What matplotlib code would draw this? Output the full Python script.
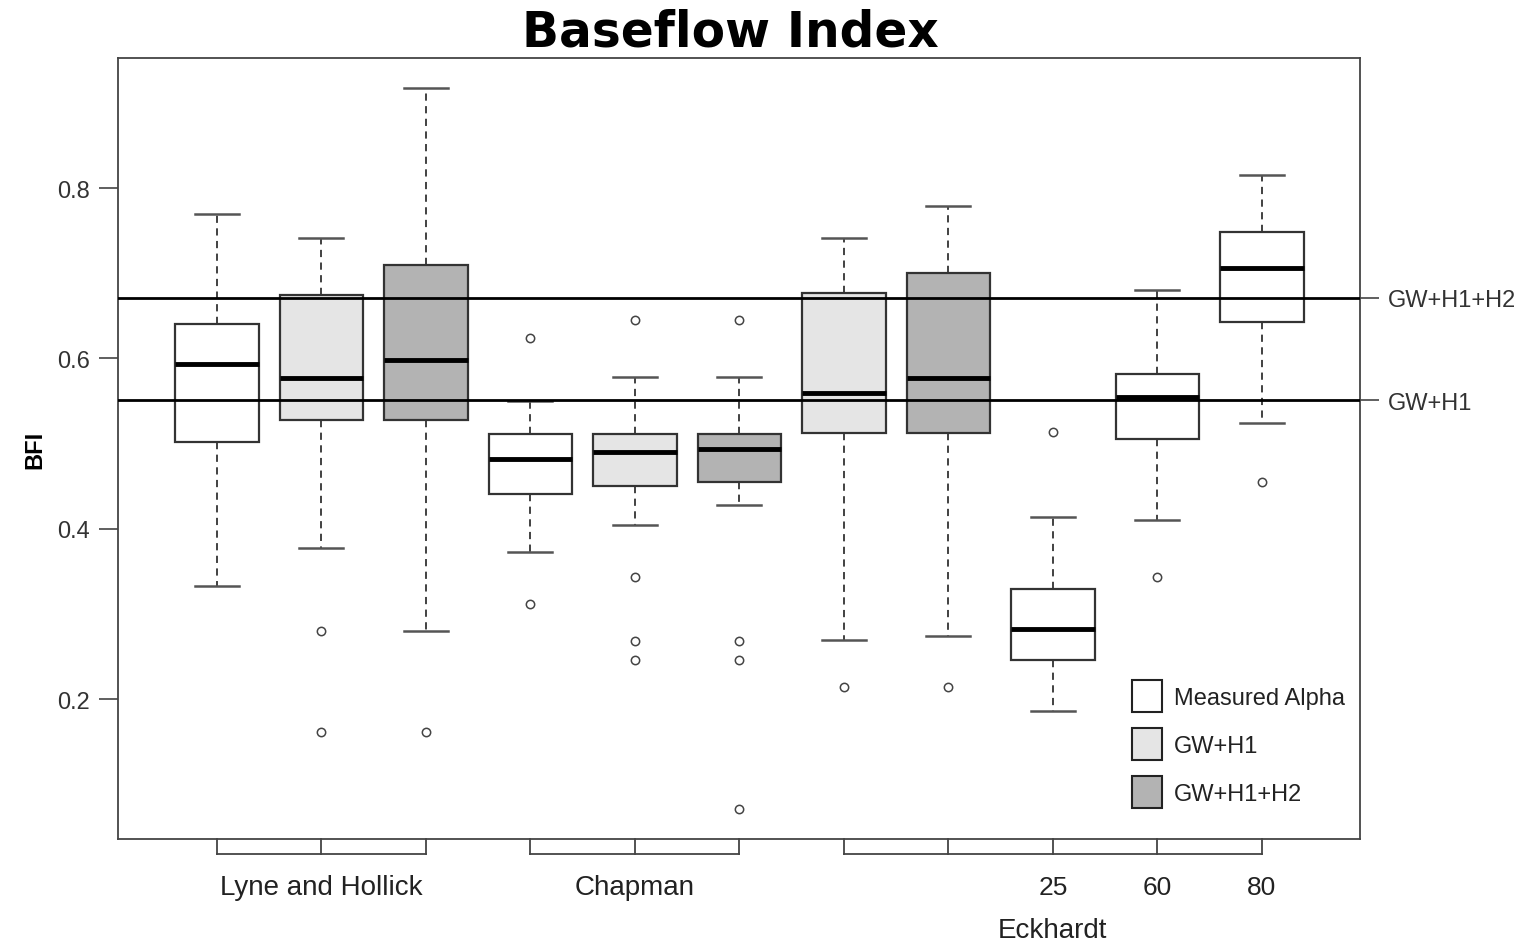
import numpy as np
import matplotlib
matplotlib.use("Agg")
import matplotlib.pyplot as plt
import matplotlib.transforms as mtransforms
from matplotlib.patches import Patch

plt.rcParams['font.family'] = ['Liberation Sans', 'DejaVu Sans']

# box statistics (whisker low, Q1, median, Q3, whisker high)
whislo = [0.333, 0.378, 0.280, 0.373, 0.405, 0.428, 0.270, 0.274, 0.186, 0.410, 0.524]
q1     = [0.502, 0.528, 0.528, 0.441, 0.450, 0.455, 0.512, 0.512, 0.246, 0.506, 0.643]
med    = [0.593, 0.577, 0.598, 0.482, 0.490, 0.494, 0.559, 0.577, 0.283, 0.555, 0.706]
q3     = [0.641, 0.674, 0.710, 0.511, 0.511, 0.511, 0.677, 0.700, 0.329, 0.582, 0.748]
whishi = [0.769, 0.741, 0.917, 0.550, 0.578, 0.578, 0.741, 0.779, 0.414, 0.680, 0.815]
fliers = [[], [0.280, 0.161], [0.161], [0.624, 0.312],
          [0.645, 0.344, 0.268, 0.246], [0.645, 0.268, 0.246, 0.071],
          [0.214], [0.214], [0.514], [0.344], [0.455]]
series = ['Measured Alpha', 'GW+H1', 'GW+H1+H2']
box_series = [0, 1, 2, 0, 1, 2, 1, 2, 0, 0, 0]
colors = ['white', '#e5e5e5', '#b3b3b3']

ref_lines = [0.671, 0.551]
ref_labels = ['GW+H1+H2', 'GW+H1']

groups = ['Lyne and Hollick', 'Chapman', 'Eckhardt']
group_boxes = [[1, 2, 3], [4, 5, 6], [7, 8, 9, 10, 11]]
alpha_labels = ['25', '60', '80']
alpha_pos = [9, 10, 11]

pos = np.arange(1, len(med) + 1)

fig = plt.figure(figsize=(15.26, 9.45), dpi=100)
ax = fig.add_axes([118/1526, 1-840/945, (1360-118)/1526, (840-59)/945])

stats = []
for i in range(len(med)):
    stats.append({'whislo': whislo[i], 'q1': q1[i], 'med': med[i], 'q3': q3[i],
                  'whishi': whishi[i], 'fliers': fliers[i]})

bp = ax.bxp(stats, positions=pos, widths=0.8, capwidths=0.42, patch_artist=True,
            boxprops=dict(edgecolor='#333333', linewidth=1.6),
            medianprops=dict(color='black', linewidth=3.5),
            whiskerprops=dict(color='#333333', linewidth=1.3, linestyle=(0, (4, 3))),
            capprops=dict(color='#555555', linewidth=1.8),
            flierprops=dict(marker='o', markerfacecolor='none', markeredgecolor='#444444',
                            markersize=6, markeredgewidth=1.1))
for patch, s in zip(bp['boxes'], box_series):
    patch.set_facecolor(colors[s])

for v in ref_lines:
    ax.axhline(v, color='black', linewidth=2, zorder=4)

ax.set_xlim(0.053, 11.94)
ax.set_ylim(0.036, 0.9526)
ax.set_yticks([0.2, 0.4, 0.6, 0.8])
ax.set_yticklabels(['0.2', '0.4', '0.6', '0.8'])
ax.tick_params(axis='y', length=14, width=1.2, color='#444444', labelsize=17,
               labelcolor='#333333', pad=6)
ax.set_xticks([])
for sp in ax.spines.values():
    sp.set_color('#444444')
    sp.set_linewidth(1.3)
ax.set_ylabel('BFI', fontsize=17, fontweight='bold', labelpad=8)

# right side labels for reference lines
ax2 = ax.twinx()
ax2.set_ylim(ax.get_ylim())
ax2.set_yticks(ref_lines)
ax2.set_yticklabels(ref_labels)
ax2.tick_params(axis='y', length=14, width=1.2, color='#444444', labelsize=17,
                labelcolor='#333333', pad=6)
for sp in ax2.spines.values():
    sp.set_visible(False)

# grouped x axis below the plot
trans = mtransforms.blended_transform_factory(ax.transData, ax.transAxes)
yb = -0.0192
for g, bx in zip(groups, group_boxes):
    ax.plot([bx[0], bx[-1]], [yb, yb], color='#444444', lw=1.3, transform=trans, clip_on=False)
    for b in bx:
        ax.plot([b, b], [yb, 0], color='#444444', lw=1.3, transform=trans, clip_on=False)
ax.text(np.mean(group_boxes[0]), -0.062, groups[0], transform=trans, ha='center', va='center',
        fontsize=20, color='#222222')
ax.text(np.mean(group_boxes[1]), -0.062, groups[1], transform=trans, ha='center', va='center',
        fontsize=20, color='#222222')
for lab, p in zip(alpha_labels, alpha_pos):
    ax.text(p, -0.062, lab, transform=trans, ha='center', va='center', fontsize=19, color='#222222')
ax.text(alpha_pos[0], -0.117, groups[2], transform=trans, ha='center', va='center',
        fontsize=20, color='#222222')

# legend
handles = [Patch(facecolor=c, edgecolor='#222222', linewidth=1.5) for c in colors]
ax.legend(handles, series, loc='lower right', bbox_to_anchor=(1.005, 0.012), frameon=False,
          fontsize=17, handlelength=1.27, handleheight=1.72, handletextpad=0.5,
          labelspacing=0.67, labelcolor='#222222')

fig.text(0.4786, 0.966, 'Baseflow Index', ha='center', va='center', fontsize=35,
         fontweight='bold', family='DejaVu Sans')

fig.savefig('out.png', dpi=100)
